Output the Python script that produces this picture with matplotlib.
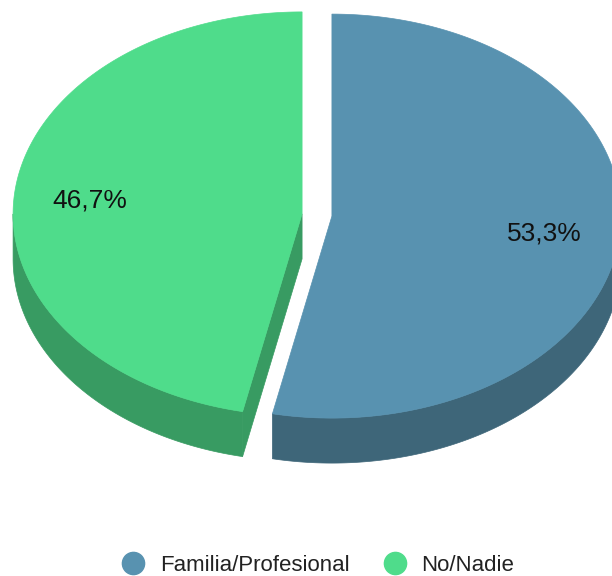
import numpy as np
import matplotlib.pyplot as plt
from matplotlib.patches import Polygon
from matplotlib.lines import Line2D

plt.rcParams["font.family"] = ["Liberation Sans", "DejaVu Sans"]

labels = ["Familia/Profesional", "No/Nadie"]
values = [53.3, 46.7]
top_colors = ["#5892b0", "#4fdc8b"]
side_colors = ["#3e6679", "#389b62"]

# geometry of the tilted pie (pixel units)
cx, cy = 317, 215
rx, ry = 289, 202
depth = 45
explode = 15


def pt(t, x0, y0, r=1.0):
    a = np.radians(t)
    return x0 + r * rx * np.sin(a), y0 - r * ry * np.cos(a)


def arc(t0, t1, x0, y0, n=200):
    t = np.linspace(t0, t1, n)
    a = np.radians(t)
    return np.column_stack([x0 + rx * np.sin(a), y0 - ry * np.cos(a)])


fig = plt.figure(figsize=(6.12, 5.76), dpi=100)
ax = fig.add_axes([0, 0, 1, 1])
ax.set_xlim(0, 612)
ax.set_ylim(576, 0)
ax.axis("off")

total = sum(values)
angles = np.cumsum([0] + [v / total * 360 for v in values])

slices = []
for i, v in enumerate(values):
    t0, t1 = angles[i], angles[i + 1]
    mid = (t0 + t1) / 2
    x0 = cx + explode * np.sin(np.radians(mid))
    y0 = cy - explode * 0.7 * np.cos(np.radians(mid))
    slices.append((t0, t1, mid, x0, y0))

# radial cut faces and outer walls
for i, (t0, t1, mid, x0, y0) in enumerate(slices):
    # start face visible if its normal points toward viewer
    if 90 < t0 % 360 < 270:
        px, py = pt(t0, x0, y0)
        face = [(x0, y0), (px, py), (px, py + depth), (x0, y0 + depth)]
        ax.add_patch(Polygon(face, closed=True, fc=side_colors[i], ec=side_colors[i], lw=0.5))
    lo, hi = max(t0, 90), min(t1, 270)
    if lo < hi:
        a = arc(lo, hi, x0, y0)
        b = a[::-1] + [0, depth]
        ax.add_patch(Polygon(np.vstack([a, b]), closed=True, fc=side_colors[i], ec=side_colors[i], lw=0.5))

# top faces
for i, (t0, t1, mid, x0, y0) in enumerate(slices):
    a = arc(t0, t1, x0, y0)
    poly = np.vstack([[x0, y0], a])
    ax.add_patch(Polygon(poly, closed=True, fc=top_colors[i], ec=top_colors[i], lw=0.5))
    lx, ly = pt(mid, x0, y0, 0.74)
    ax.text(lx, ly + 2, f"{values[i]:.1f}%".replace(".", ","), ha="center", va="center",
            fontsize=19, color="#111111")

handles = [Line2D([], [], marker="o", ls="", ms=16, mfc=c, mec=c) for c in top_colors]
fig.legend(handles, labels, loc="center", bbox_to_anchor=(0.52, 0.019), ncol=2,
           frameon=False, fontsize=16, handlelength=1.0, handletextpad=0.7,
           columnspacing=1.55, labelcolor="#222222", borderpad=0)

plt.savefig("out.png", dpi=100)
